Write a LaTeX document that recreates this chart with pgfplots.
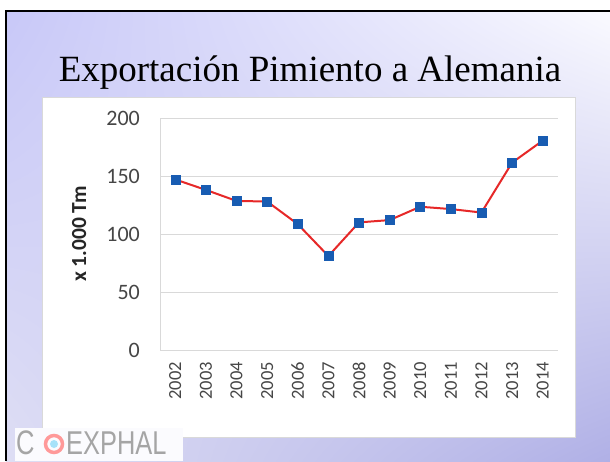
\documentclass[border=0pt]{standalone}
\usepackage{pgfplots}
\pgfplotsset{compat=1.18}
\usetikzlibrary{shadings}
\usepackage{fontspec}
\setmainfont{Liberation Serif}
\newfontfamily\carlito{Carlito}
\newfontfamily\logofont{Liberation Sans}
\definecolor{slideTL}{RGB}{200,200,248}
\definecolor{slideTR}{RGB}{250,250,255}
\definecolor{slideBL}{RGB}{222,222,244}
\definecolor{slideBR}{RGB}{176,176,230}
\definecolor{lineRed}{RGB}{230,40,40}
\definecolor{markBlue}{RGB}{24,92,178}
\definecolor{gridGray}{RGB}{217,217,217}
\definecolor{tickGray}{RGB}{70,70,70}
\definecolor{logoGray}{RGB}{165,165,165}
\pgfplotstableread{
x year val
0 2002 147
1 2003 138
2 2004 128.5
3 2005 128
4 2006 108.5
5 2007 81
6 2008 110
7 2009 112
8 2010 123.5
9 2011 121.5
10 2012 118.5
11 2013 161.5
12 2014 180.5
}\datatable
\begin{document}
\begin{tikzpicture}[x=1pt,y=1pt]
\useasboundingbox (0,0) rectangle (610,461);
\fill[white] (0,0) rectangle (610,461);
\shade[upper left=slideTL, upper right=slideTR, lower left=slideBL, lower right=slideBR] (6,0) rectangle (610,450);
\draw[black, line width=2.5pt] (6,0) -- (6,450) -- (611,450);
% title
\node[anchor=base, inner sep=0pt, font=\fontsize{37}{40}\selectfont] at (310,379) {Exportación Pimiento a Alemania};
% chart area
\fill[white, draw=gridGray, line width=0.6pt] (42,24) rectangle (575,364);
% logo
\fill[white!92!slideTL] (15,0) rectangle (183,33);
\node[anchor=base west, inner sep=0pt, text=logoGray, font=\logofont\fontsize{34}{34}\selectfont, xscale=0.75] at (16,6.5) {C};
\draw[red!40, line width=3.5pt] (54,17) circle (8.5);
\fill[cyan!35] (54,17) circle (4);
\node[anchor=base west, inner sep=0pt, text=logoGray, font=\logofont\fontsize{33}{33}\selectfont, xscale=0.77] at (66,6.5) {EXPHAL};
\begin{axis}[
  at={(160pt,111pt)}, anchor=south west,
  scale only axis, width=398pt, height=232pt,
  xmin=-0.5, xmax=12.5, ymin=0, ymax=200,
  ytick={0,50,100,150,200},
  xtick=data,
  xticklabels from table={\datatable}{year},
  /pgf/number format/assume math mode=true,
  ymajorgrids, grid style={gridGray, line width=1pt},
  axis x line*=bottom, axis y line*=left,
  axis line style={gridGray, line width=1pt, -},
  major tick length=0pt,
  ticklabel style={text=tickGray},
  yticklabel style={font=\carlito\fontsize{22}{22}\selectfont, inner sep=0pt, anchor=east},
  yticklabel shift=20pt,
  xticklabel style={font=\carlito\fontsize{18.5}{18.5}\selectfont, inner sep=0pt, rotate=90, anchor=east},
  xticklabel shift=12pt,
  ylabel={x 1.000 Tm},
  ylabel style={font=\carlito\bfseries\fontsize{21.5}{21.5}\selectfont, text=black!85, at={(axis description cs:-0.203,0.5)}, anchor=center, inner sep=0pt},
]
\addplot[lineRed, line width=2pt, mark=square*, mark size=4.5pt, mark options={fill=markBlue, draw=markBlue, line width=0.5pt}] table[x=x, y=val] {\datatable};
\end{axis}
\end{tikzpicture}
\end{document}
